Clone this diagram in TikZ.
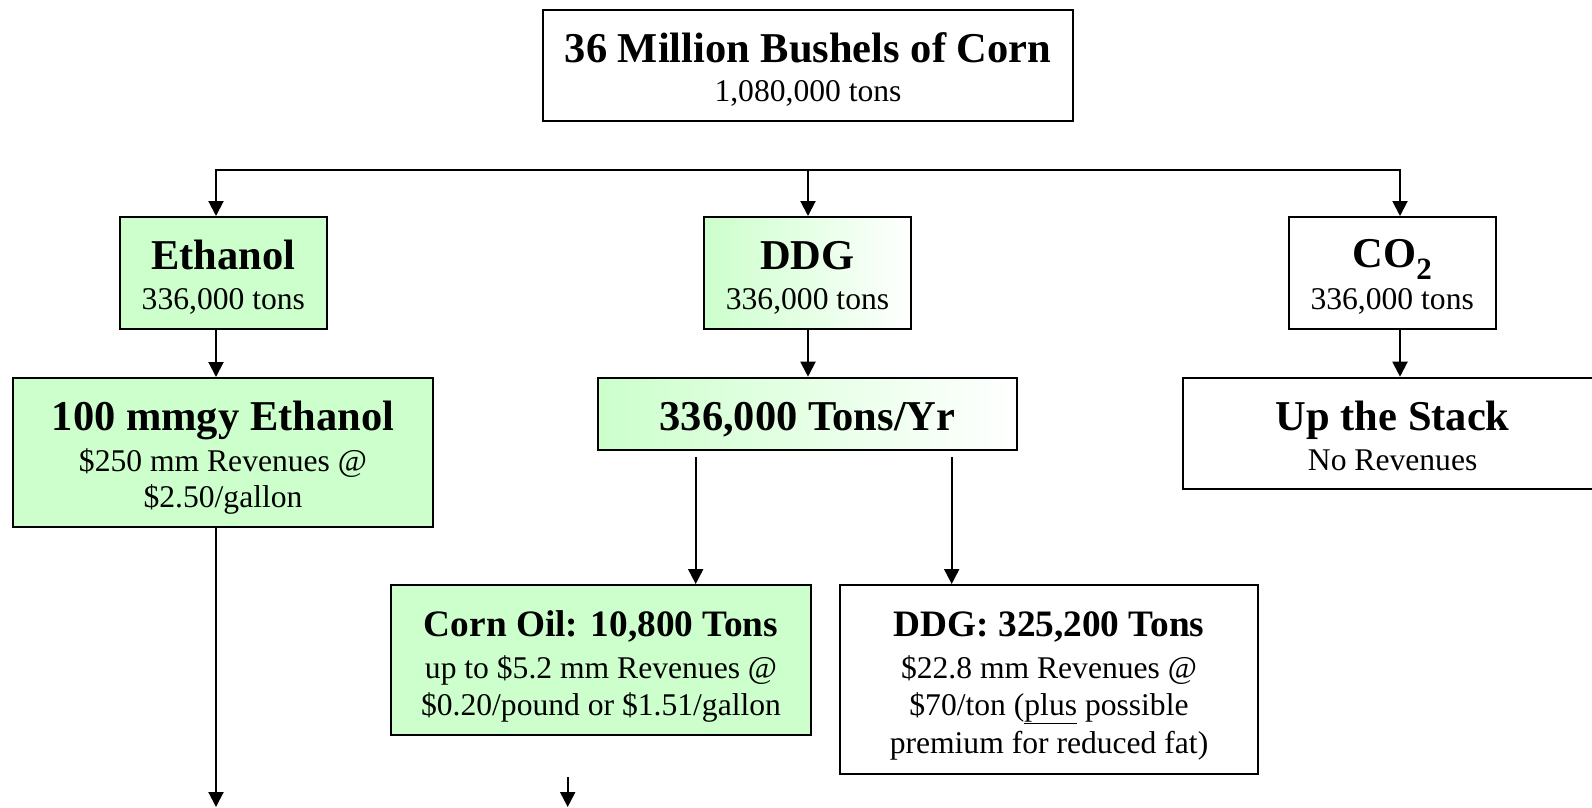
\documentclass[tikz,border=0pt]{standalone}
\usepackage{fontspec}
\setmainfont{Liberation Serif}
\usetikzlibrary{arrows.meta,fit}
\definecolor{grn}{RGB}{204,255,204}
\begin{document}
\begin{tikzpicture}[x=1pt,y=-1pt,
 box/.style={draw=black, line width=2pt, rectangle, inner sep=0pt},
 gbox/.style={box, fill=grn},
 hbox/.style={box, left color=grn, right color=white},
 wbox/.style={box, fill=white},
 ttl/.style={anchor=base, inner sep=0pt, font=\fontsize{42.5}{45}\selectfont\bfseries},
 ttlb/.style={anchor=base, inner sep=0pt, font=\fontsize{37.3}{40}\selectfont\bfseries},
 sub/.style={anchor=base, inner sep=0pt, font=\fontsize{31.6}{34}\selectfont},
 arr/.style={line width=2pt, -{Triangle[width=15pt,length=15pt]}}]
\useasboundingbox (0,0) rectangle (1592,807);
\fill[white] (0,0) rectangle (1592,807);

% boxes
\node[wbox, fit={(543,10) (1073,121)}] (top) {};
\node[gbox, fit={(120,217) (326.7,329)}] (eth) {};
\node[hbox, fit={(704,217) (911,329)}] (ddg) {};
\node[wbox, fit={(1288.7,217) (1495.7,329)}] (co2) {};
\node[gbox, fit={(13.3,378) (432.7,527)}] (mm) {};
\node[hbox, fit={(598.3,377.7) (1016.7,450)}] (ty) {};
\node[wbox, fit={(1183.3,377.7) (1602,488.7)}] (up) {};
\node[gbox, fit={(391,585) (811,735)}] (oil) {};
\node[wbox, fit={(840,585) (1258,773.5)}] (dd) {};

% texts
\node[ttl] (topT) at ([yshift=-53.5pt]top.north) {36 Million Bushels of Corn};
\node[sub] (topS) at ([yshift=-92.5pt]top.north) {1,080,000 tons};
\node[ttl] (ethT) at ([yshift=-53pt]eth.north) {Ethanol};
\node[sub] (ethS) at ([yshift=-93pt]eth.north) {336,000 tons};
\node[ttl] (ddgT) at ([yshift=-53pt]ddg.north) {DDG};
\node[sub] (ddgS) at ([yshift=-93pt]ddg.north) {336,000 tons};
\node[ttl] (co2T) at ([yshift=-51pt]co2.north) {CO\raisebox{-0.3em}{\fontsize{31}{31}\selectfont 2}};
\node[sub] (co2S) at ([yshift=-93pt]co2.north) {336,000 tons};
\node[ttl] (mmT) at ([yshift=-53.5pt]mm.north) {100 mmgy Ethanol};
\node[sub] (mmS1) at ([yshift=-94pt]mm.north) {\$250 mm Revenues @};
\node[sub] (mmS2) at ([yshift=-130.5pt]mm.north) {\$2.50/gallon};
\node[ttl] (tyT) at ([yshift=-53.5pt]ty.north) {336,000 Tons/Yr};
\node[ttl] (upT) at ([yshift=-53.5pt]up.north) {Up the Stack};
\node[sub] (upS) at ([yshift=-93.5pt]up.north) {No Revenues};
\node[ttlb] (oilT) at ([yshift=-52.6pt]oil.north) {Corn Oil: 10,800 Tons};
\node[sub] (oilS1) at ([yshift=-94pt]oil.north) {up to \$5.2 mm Revenues @};
\node[sub] (oilS2) at ([yshift=-131pt]oil.north) {\$0.20/pound or \$1.51/gallon};
\node[ttlb] (ddT) at ([yshift=-52.6pt]dd.north) {DDG: 325,200 Tons};
\node[sub] (ddS1) at ([yshift=-94pt]dd.north) {\$22.8 mm Revenues @};
\node[sub] (ddS2) at ([yshift=-131pt]dd.north) {\$70/ton (\underline{plus} possible};
\node[sub] (ddS3) at ([yshift=-169pt]dd.north) {premium for reduced fat)};

% connectors
\coordinate (barM) at (808,170);
\coordinate (barL) at (216,170);
\coordinate (barR) at (1400,170);
\draw[arr] (barM) -| (eth.north -| barL);
\draw[arr] (barM) -| (co2.north -| barR);
\draw[arr] (barM) -- (barM |- ddg.north);
\draw[arr] (eth.south -| barL) -- (mm.north -| barL);
\draw[arr] (ddg.south -| barM) -- (ty.north -| barM);
\draw[arr] (co2.south -| barR) -- (up.north -| barR);
\coordinate (d1) at (695.7,457);
\coordinate (d2) at (951.7,457);
\draw[arr] (d1) -- (d1 |- oil.north);
\draw[arr] (d2) -- (d2 |- dd.north);
\coordinate (e1) at (216,807);
\draw[arr] (mm.south -| e1) -- (e1);
\coordinate (s1) at (567.7,777);
\coordinate (s2) at (567.7,807);
\draw[arr] (s1) -- (s2);
\end{tikzpicture}
\end{document}
